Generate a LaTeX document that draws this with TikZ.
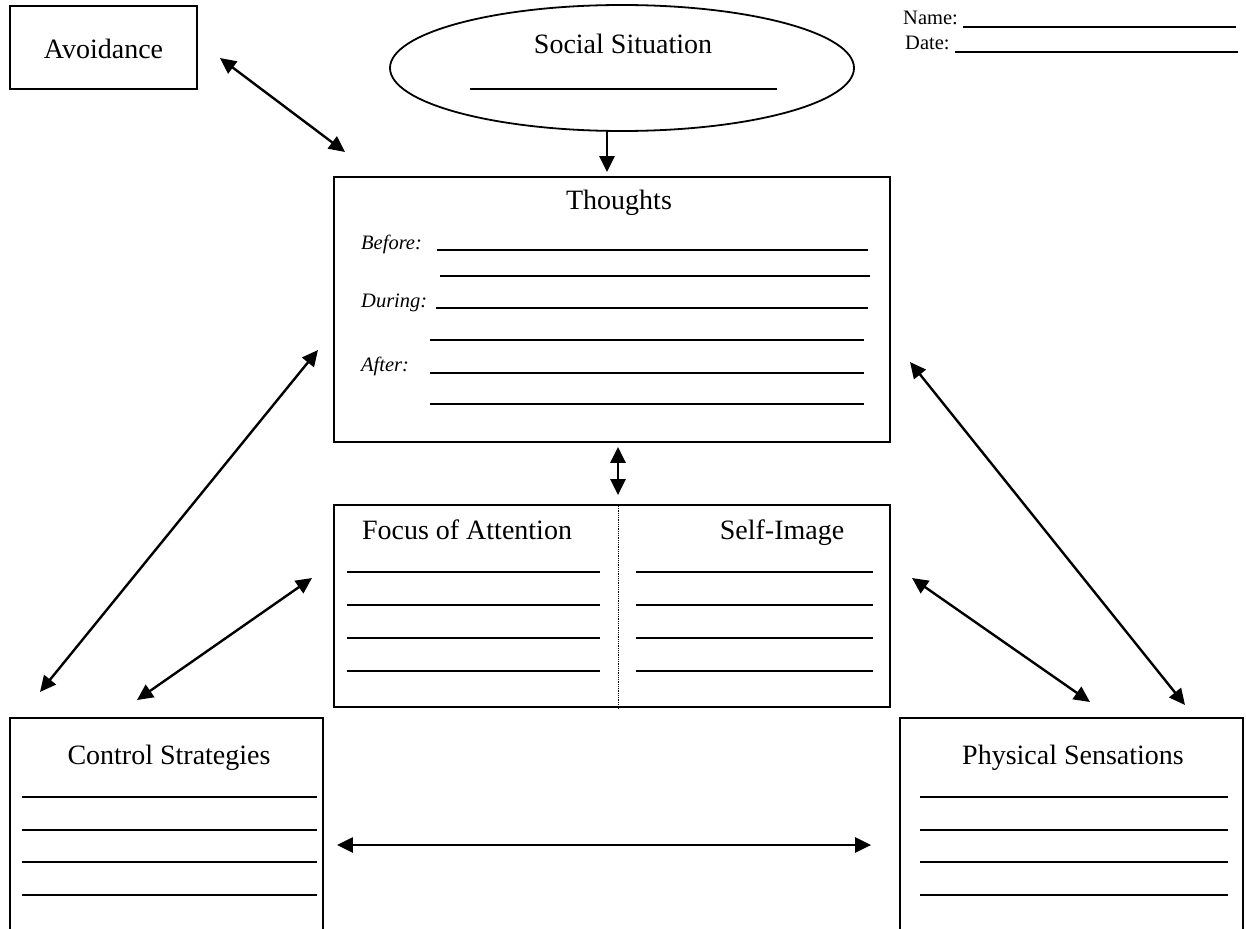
\documentclass[tikz,border=0pt]{standalone}
\usepackage{fontspec}
\setmainfont{Liberation Serif}
\usetikzlibrary{arrows.meta,shapes.geometric}
\begin{document}
\begin{tikzpicture}[x=1pt,y=-1pt,
  box/.style={draw, line width=1.8pt, inner sep=0pt},
  big/.style={font=\fontsize{28}{32}\selectfont, inner sep=0pt},
  small/.style={font=\fontsize{20.5}{24}\selectfont, inner sep=0pt},
  lab/.style={font=\fontsize{20.5}{24}\selectfont\itshape, inner sep=0pt, anchor=base west},
  blank/.style={line width=1.1pt},
  tip/.tip={Triangle[length=16pt,width=15pt]},
  dbl/.style={{tip}-{tip}, line width=2.4pt},
  one/.style={-{tip}, line width=2.4pt}]
\useasboundingbox (0,0) rectangle (1246,928);
\clip (0,0) rectangle (1246,928);
% Avoidance
\node[box, minimum width=187pt, minimum height=83pt] (avoid) at (103.5,47.5) {};
\node[big, anchor=base] (avoidt) at (103.5,59) {Avoidance};
% Social situation
\node[draw, ellipse, line width=1.8pt, minimum width=464pt, minimum height=126pt] (ss) at (622,68) {};
\node[big, anchor=base] (sst) at (623,54) {Social Situation};
\draw[blank] (470,89) -- (777,89);
% Name / Date
\node[small, anchor=base west] (name) at (903,25) {Name:};
\draw[blank] (963,27) -- (1236,27);
\node[small, anchor=base west] (date) at (905,50) {Date:};
\draw[blank] (955,52) -- (1238,52);
% Thoughts
\node[box, minimum width=556pt, minimum height=265pt] (th) at (612,309.5) {};
\node[big, anchor=base] (tht) at (619,209) {Thoughts};
\node[lab] (before) at (361,249) {Before:};
\node[lab] (during) at (361,307) {During:};
\node[lab] (after) at (361,371) {After:};
\draw[blank] (437,250) -- (868,250);
\draw[blank] (440,276) -- (870,276);
\draw[blank] (436,308) -- (868,308);
\draw[blank] (430,340) -- (864,340);
\draw[blank] (430,373) -- (864,373);
\draw[blank] (430,404) -- (864,404);
% Focus / Self-image
\node[box, minimum width=556pt, minimum height=202pt] (fo) at (612,606) {};
\coordinate (div) at (618,606);
\draw[line width=0.8pt, densely dotted] (div |- fo.north) -- (div |- fo.south);
\node[big, anchor=base] (fot) at (467,539) {Focus of Attention};
\node[big, anchor=base] (sit) at (782,539) {Self-Image};
\foreach \y in {572,605,638,671} {
  \draw[blank] (347,\y) -- (600,\y);
  \draw[blank] (636,\y) -- (873,\y);
}
% Control strategies
\node[box, minimum width=313pt, minimum height=222pt] (cs) at (166.5,829) {};
\node[big, anchor=base] (cst) at (169,764) {Control Strategies};
\foreach \y in {797,830,862,895} \draw[blank] (22,\y) -- (317,\y);
% Physical sensations
\node[box, minimum width=343pt, minimum height=222pt] (ps) at (1071.5,829) {};
\node[big, anchor=base] (pst) at (1073,764) {Physical Sensations};
\foreach \y in {797,830,862,895} \draw[blank] (920,\y) -- (1228,\y);
% connectors
\draw[one] ([xshift=-15pt]ss.south) -- ([xshift=-5pt, yshift=4pt]th.north);
\draw[dbl] ([yshift=-4pt]div |- th.south) -- ([yshift=9pt]div |- fo.north);
\draw[dbl] ([xshift=13pt]cs.east |- 0,845) -- ([xshift=-28pt]ps.west |- 0,845);
\coordinate (a1s) at (220,58); \coordinate (a1e) at (345,152);
\coordinate (a2s) at (318,350); \coordinate (a2e) at (40,692);
\coordinate (a3s) at (312,578); \coordinate (a3e) at (137,700);
\coordinate (a4s) at (912,578); \coordinate (a4e) at (1090,702);
\coordinate (a5s) at (910,362); \coordinate (a5e) at (1185,705);
\draw[dbl] (a1s) -- (a1e);
\draw[dbl] (a2s) -- (a2e);
\draw[dbl] (a3s) -- (a3e);
\draw[dbl] (a4s) -- (a4e);
\draw[dbl] (a5s) -- (a5e);
\end{tikzpicture}
\end{document}
